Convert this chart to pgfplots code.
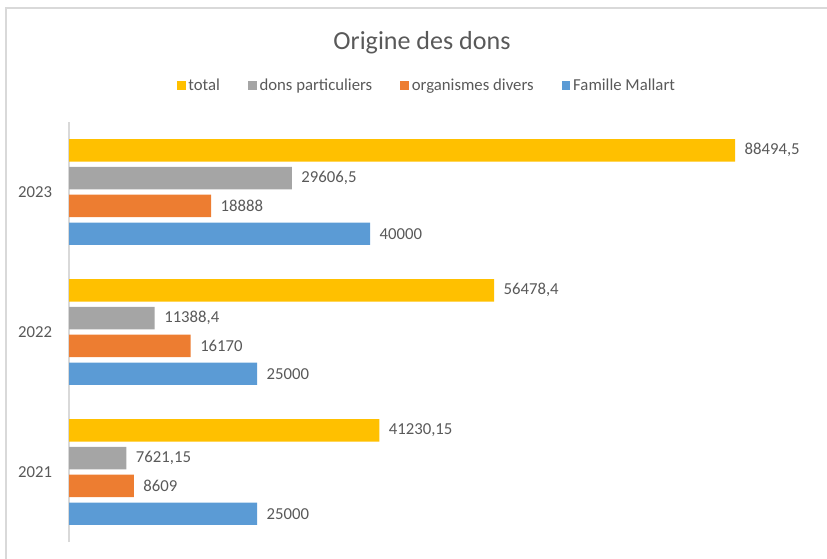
\documentclass[border=0pt]{standalone}
\usepackage{pgfplots}
\pgfplotsset{compat=1.18}
\usepackage{fontspec}
\setmainfont{Carlito}
\definecolor{cTotal}{HTML}{FFC000}
\definecolor{cGray}{HTML}{A5A5A5}
\definecolor{cOrange}{HTML}{ED7D31}
\definecolor{cBlue}{HTML}{5B9BD5}
\definecolor{txt}{HTML}{595959}
\definecolor{axl}{HTML}{D9D9D9}
\begin{document}
\begin{tikzpicture}
\useasboundingbox (0,0) rectangle (444.6pt,300pt);
\draw[axl, line width=0.8pt] (3.2pt,-5pt) -- (3.2pt,295.7pt) -- (450pt,295.7pt);
\begin{axis}[
  at={(37.1pt,8.6pt)}, anchor=south west,
  scale only axis, width=404.6pt, height=225.8pt,
  xbar, xmin=0, xmax=100000, ymin=0.5, ymax=3.5,
  axis lines*=left,
  x axis line style={draw=none},
  y axis line style={draw=axl, line width=0.8pt},
  xtick=\empty,
  ytick={1,2,3}, yticklabels={2021,2022,2023},
  major tick length=0pt,
  yticklabel style={font=\fontsize{9}{10}\selectfont, text=txt, xshift=-5.6pt},
  bar width=0.16,
  point meta=explicit symbolic,
  nodes near coords,
  every node near coord/.append style={anchor=west, xshift=1.6pt, font=\fontsize{9}{10}\selectfont, text=txt},
  title={Origine des dons},
  title style={at={(axis description cs:0.469,1.162)}, anchor=center, font=\fontsize{14}{16}\selectfont, text=txt},
  legend columns=4,
  legend style={at={(axis description cs:0.476,1.086)}, anchor=center, draw=none, fill=none,
    font=\fontsize{9}{10}\selectfont, text=txt,
    /tikz/every even column/.append style={column sep=13.5pt},
    nodes={inner xsep=1.5pt}},
  legend image code/.code={\fill[#1] (0pt,-2.4pt) rectangle (4.8pt,2.4pt);},
]
\addplot[fill=cTotal, draw=none, bar shift=0.298] coordinates {
  (41230.15,1) [41230,15]
  (56478.4,2) [56478,4]
  (88494.5,3) [88494,5]
};
\addplot[fill=cGray, draw=none, bar shift=0.099] coordinates {
  (7621.15,1) [7621,15]
  (11388.4,2) [11388,4]
  (29606.5,3) [29606,5]
};
\addplot[fill=cOrange, draw=none, bar shift=-0.099] coordinates {
  (8609,1) [8609]
  (16170,2) [16170]
  (18888,3) [18888]
};
\addplot[fill=cBlue, draw=none, bar shift=-0.298] coordinates {
  (25000,1) [25000]
  (25000,2) [25000]
  (40000,3) [40000]
};
\legend{total, dons particuliers, organismes divers, Famille Mallart}
\end{axis}
\end{tikzpicture}
\end{document}
